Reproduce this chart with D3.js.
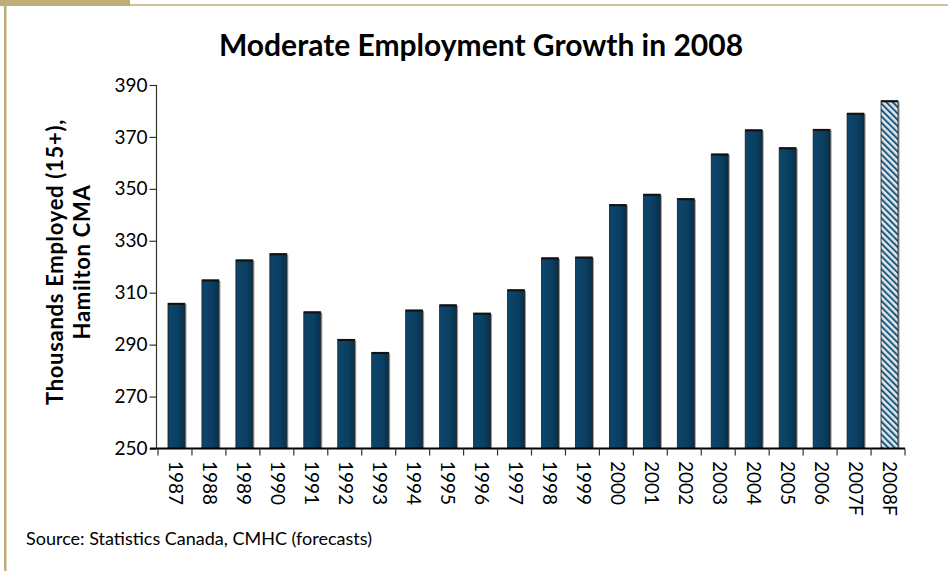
<!DOCTYPE html>
<html>
<head>
<meta charset="utf-8">
<script src="https://cdn.jsdelivr.net/npm/d3@7"></script>
<style>
  body { margin: 0; background: #fff; }
  svg { display: block; font-family: Lato, "Open Sans", sans-serif; }
</style>
</head>
<body>
<div id="chart"></div>
<script>
// data
const years = ['1987', '1988', '1989', '1990', '1991', '1992', '1993', '1994', '1995', '1996', '1997',
  '1998', '1999', '2000', '2001', '2002', '2003', '2004', '2005', '2006', '2007F', '2008F'];
const employed = [305.9, 314.9, 322.6, 325.0, 302.6, 292.0, 287.0, 303.3, 305.3, 302.1, 311.1,
  323.4, 323.7, 343.9, 347.9, 346.2, 363.4, 372.7, 365.8, 372.9, 379.1, 383.9];
const forecastYears = ['2008F'];
const yTicks = [250, 270, 290, 310, 330, 350, 370, 390];

const W = 948, H = 571;
const tan = '#bfad78';

const svg = d3.select('#chart').append('svg').attr('width', W).attr('height', H);

const defs = svg.append('defs');
const grad = defs.append('linearGradient').attr('id', 'barFill').attr('x1', 0).attr('x2', 1);
grad.append('stop').attr('offset', '0%').attr('stop-color', '#0d466b');
grad.append('stop').attr('offset', '60%').attr('stop-color', '#0b3f61');
grad.append('stop').attr('offset', '100%').attr('stop-color', '#06304c');

const hatch = defs.append('pattern')
  .attr('id', 'hatch')
  .attr('patternUnits', 'userSpaceOnUse')
  .attr('width', 4.5).attr('height', 4.5)
  .attr('patternTransform', 'rotate(-45)');
hatch.append('rect').attr('width', 4.5).attr('height', 4.5).attr('fill', '#e2e6e8');
hatch.append('rect').attr('width', 2).attr('height', 4.5).attr('fill', '#1b5b83');

// frame
svg.append('rect').attr('x', 0).attr('y', 0).attr('width', 130).attr('height', 6).attr('fill', tan);
svg.append('line').attr('x1', 130).attr('x2', W).attr('y1', 5).attr('y2', 5)
  .attr('stroke', tan).attr('stroke-width', 1.5);
svg.append('rect').attr('x', 4).attr('y', 0).attr('width', 2.5).attr('height', H).attr('fill', tan);

const x = d3.scaleBand().domain(years).range([158, 905]).paddingInner(0.5).paddingOuter(0.25);
const y = d3.scaleLinear().domain([250, 390]).range([448.5, 85]);

// y axis
const yAxis = svg.append('g')
  .attr('transform', 'translate(156.5,0)')
  .call(d3.axisLeft(y).tickValues(yTicks).tickSize(7).tickPadding(2));
yAxis.select('.domain').attr('stroke', '#333').attr('stroke-width', 1.2).attr('d', `M0,${y(250)}V${y(390)}`);
yAxis.selectAll('.tick line').attr('stroke', '#333').attr('stroke-width', 1.2);
yAxis.selectAll('.tick text')
  .style('font-family', 'Lato, sans-serif')
  .style('font-size', '19px')
  .attr('fill', '#000');

// bars
const bars = svg.append('g');
years.forEach((yr, i) => {
  const v = employed[i];
  const bx = x(yr) + 1.5, bw = x.bandwidth(), top = y(v), bh = y(250) - y(v);
  const isForecast = forecastYears.includes(yr);
  // soft shadow on right side
  bars.append('rect')
    .attr('x', bx + bw).attr('y', top + 1).attr('width', 1.5).attr('height', bh - 1)
    .attr('fill', '#9a9a9a');
  bars.append('rect')
    .attr('x', bx).attr('y', top).attr('width', bw).attr('height', bh)
    .attr('fill', isForecast ? 'url(#hatch)' : 'url(#barFill)')
    .attr('stroke', '#1b1b1b').attr('stroke-width', 0.8);
  bars.append('rect')
    .attr('x', bx).attr('y', top - 0.5).attr('width', bw).attr('height', 2)
    .attr('fill', '#111');
});

// x axis baseline and ticks between categories
const edges = years.map(d => x(d) - x.step() * x.paddingInner() / 2).concat([905]);
svg.append('line')
  .attr('x1', 150).attr('x2', 905).attr('y1', y(250)).attr('y2', y(250))
  .attr('stroke', '#000').attr('stroke-width', 2);
svg.append('g').selectAll('line').data(edges).join('line')
  .attr('x1', d => d).attr('x2', d => d)
  .attr('y1', y(250)).attr('y2', y(250) + 7)
  .attr('stroke', '#333').attr('stroke-width', 1.2);

svg.append('g').selectAll('text').data(years).join('text')
  .attr('transform', d => `translate(${x(d) + x.bandwidth() / 2 - 5.5},461) rotate(90)`)
  .attr('text-anchor', 'start')
  .style('font-size', '19px')
  .attr('fill', '#000')
  .text(d => d);

// title
svg.append('text')
  .attr('x', 481).attr('y', 56)
  .attr('text-anchor', 'middle')
  .style('font-size', '30px').style('font-weight', 700)
  .text('Moderate Employment Growth in 2008');

// y label
const yl = svg.append('text')
  .attr('transform', 'translate(63,262) rotate(-90)')
  .attr('text-anchor', 'middle')
  .style('font-size', '22px').style('font-weight', 700)
  .style('letter-spacing', '0.7px');
yl.append('tspan').attr('x', 0).attr('dy', 0).text('Thousands Employed (15+),');
yl.append('tspan').attr('x', 0).attr('dy', 27).text('Hamilton CMA');

// source
svg.append('text')
  .attr('x', 26).attr('y', 545)
  .style('font-size', '18px')
  .text('Source: Statistics Canada, CMHC (forecasts)');
</script>
</body>
</html>
